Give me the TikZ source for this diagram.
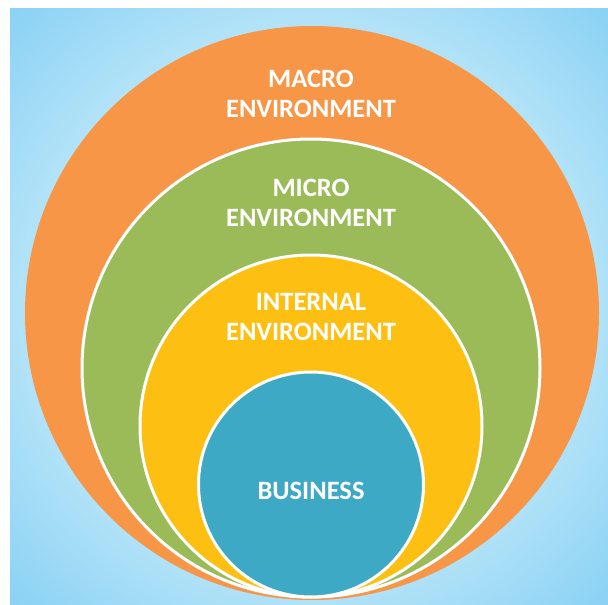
\documentclass[tikz,border=0pt]{standalone}
\usepackage{fontspec}
\setmainfont{Carlito}
\definecolor{bgin}{HTML}{C6EBFA}
\definecolor{bgout}{HTML}{8BD2F4}
\definecolor{macrocol}{HTML}{F79646}
\definecolor{microcol}{HTML}{9BBB59}
\definecolor{internalcol}{HTML}{FDC012}
\definecolor{businesscol}{HTML}{3DA9C4}
\pgfdeclareradialshading{skyglow}{\pgfpoint{0bp}{0bp}}{color(0bp)=(bgin); color(18bp)=(bgin); color(35bp)=(bgout); color(50bp)=(bgout)}

\begin{document}
\begin{tikzpicture}[x=1pt,y=-1pt,
  ring/.style={draw=white,line width=3pt},
  ringtext/.style={text=white,align=center,font=\bfseries\fontsize{26.5}{30}\selectfont}]
  \useasboundingbox (0,0) rectangle (608,605);
  \shade[shading=skyglow] (10,8) rectangle (608,605);
  \coordinate (macroc) at (312,313);
  \coordinate (microc) at (311,368);
  \coordinate (internalc) at (311,426);
  \coordinate (businessc) at (311,484.5);
  \fill[macrocol] (macroc) circle (287pt);
  \filldraw[ring,fill=microcol] (microc) circle (229pt);
  \filldraw[ring,fill=internalcol] (internalc) circle (171pt);
  \filldraw[ring,fill=businesscol] (businessc) circle (112.5pt);
  \node[ringtext] (macro) at (311,94) {MACRO\\ENVIRONMENT};
  \node[ringtext] (micro) at (311,202.5) {MICRO\\ENVIRONMENT};
  \node[ringtext] (internal) at (311,317) {INTERNAL\\ENVIRONMENT};
  \node[ringtext] (business) at (311,491) {BUSINESS};
\end{tikzpicture}
\end{document}
